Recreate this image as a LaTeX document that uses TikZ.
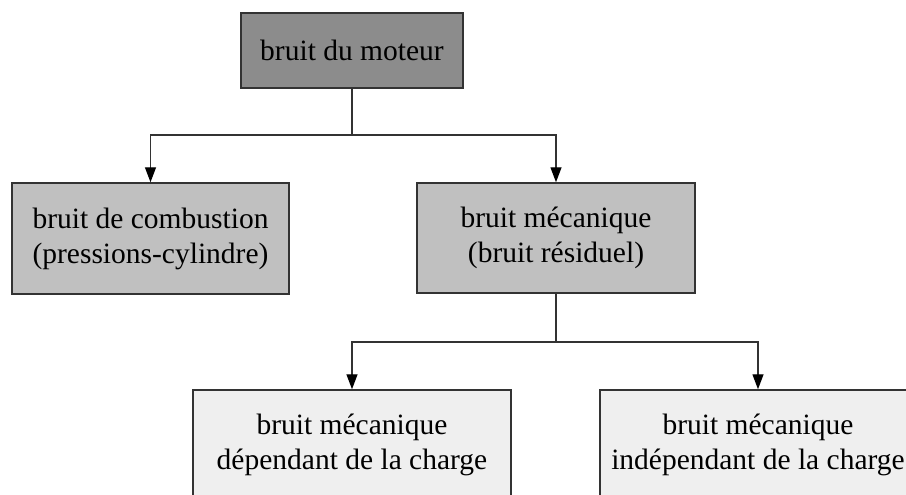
\documentclass[tikz,border=0pt]{standalone}
\usepackage{fontspec}
\setmainfont{Liberation Serif}
\usetikzlibrary{arrows.meta}
\definecolor{edgec}{HTML}{333333}
\definecolor{darkfill}{HTML}{8C8C8C}
\definecolor{midfill}{HTML}{C0C0C0}
\definecolor{lightfill}{HTML}{EFEFEF}
\tikzset{
  box/.style={draw=edgec, line width=1.5pt, align=center, inner sep=0pt,
    font=\fontsize{29.5}{35}\selectfont, text=black},
  conn/.style={draw=edgec, line width=1.4pt},
  arr/.style={conn, -{Triangle[length=15pt,width=11pt,fill=black,color=black]}},
}
\begin{document}
\begin{tikzpicture}[x=1pt,y=-1pt]
\useasboundingbox (0,0) rectangle (906,495);
\clip (0,0) rectangle (906,495);
\node[box, fill=darkfill, minimum width=222pt, minimum height=75pt] (top) at (352,50.5) {bruit du moteur};
\node[box, fill=midfill, minimum width=277pt, minimum height=111pt] (comb) at (150.5,238.5) {bruit de combustion\\(pressions-cylindre)};
\node[box, fill=midfill, minimum width=278pt, minimum height=110pt] (meca) at (556,238) {bruit mécanique\\(bruit résiduel)};
\node[box, fill=lightfill, minimum width=318pt, minimum height=110pt] (dep) at (352,445) {bruit mécanique\\dépendant de la charge};
\node[box, fill=lightfill, minimum width=316pt, minimum height=110pt] (indep) at (758,445) {bruit mécanique\\indépendant de la charge};
\coordinate (j1) at (352,135);
\coordinate (j2) at (556,342);
\draw[conn] (top.south) -- (j1);
\draw[arr] (j1) -| (comb.north);
\draw[arr] (j1) -| (meca.north);
\draw[conn] (meca.south) -- (j2);
\draw[arr] (j2) -| (dep.north);
\draw[arr] (j2) -| (indep.north);
\end{tikzpicture}
\end{document}
